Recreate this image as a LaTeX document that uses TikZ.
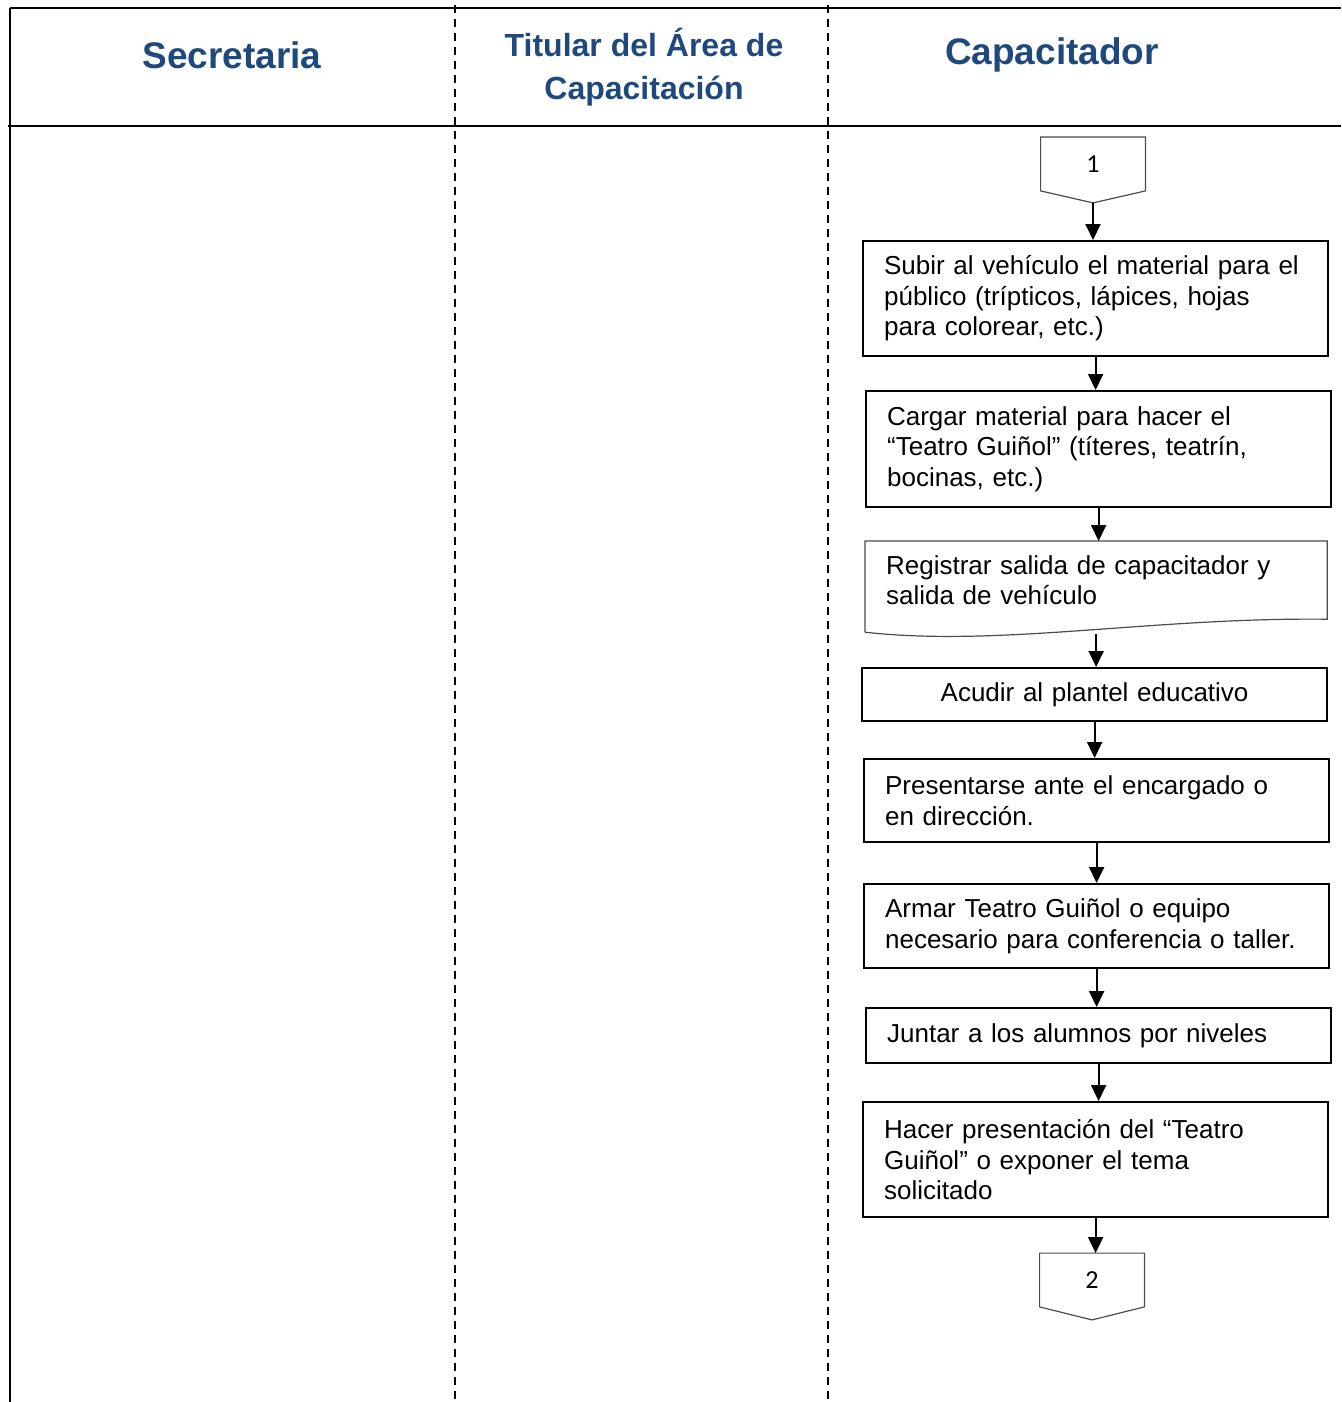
\documentclass[tikz,border=0pt]{standalone}
\usepackage{fontspec}
\setmainfont{Liberation Sans}
\newfontfamily\carlito{Carlito}
\usepackage{tikz}
\usetikzlibrary{arrows.meta}
\usetikzlibrary{calc}
\definecolor{azultit}{RGB}{31,73,125}
\hyphenpenalty=10000
\exhyphenpenalty=10000

\begin{document}
\begin{tikzpicture}[x=0.5pt,y=0.5pt,yscale=-1,xscale=1,
    paso/.style={draw,line width=1.1pt,anchor=north west,align=left,text width=211.5pt,
      inner xsep=10.5pt,inner ysep=0pt,font=\fontsize{13}{15.25}\selectfont},
    conector/.style={minimum width=52pt,minimum height=26.5pt,inner sep=0pt,font=\carlito\fontsize{13}{15}\selectfont},
    gris/.style={draw=black!70,line width=0.6pt},
    flecha/.style={-{Triangle[length=8pt,width=7.5pt]},line width=1pt},
    carril/.style={line width=0.9pt,dash pattern=on 4pt off 3pt},
    titulo/.style={text=azultit,font=\bfseries\fontsize{18.5}{22}\selectfont,align=center}]
      \useasboundingbox (0,0) rectangle (1341,1402);
      % (TikZ code unchanged)
      \draw [line width=1pt] (10,8) -- (1341,8) ;
      \draw [line width=1.2pt] (8,126) -- (1341,126) ;
      \draw [line width=0.8pt] (10,8) -- (10,1402) ;
      \draw [carril] (455,5) -- (455,1402) ;
      \draw [carril] (828,5) -- (828,1402) ;
      \node (sec) at (232,55)  [titulo] {Secretaria};
      \node (tit) at (644,67)  [titulo,font=\bfseries\fontsize{16}{21.5}\selectfont] {Titular del Área de\\Capacitación};
      \node (cap) at (1052,55) [titulo] {Capacitador};

      \node (c1) at (1093,164) [conector] {1};
      \draw [gris] (c1.north west) -- (c1.north east) -- (c1.south east) -- ($(c1.south)+(0,12)$) -- (c1.south west) -- cycle ;
      \coordinate (c1tip) at ($(c1.south)+(0,12)$);

      \node (subir) at (862,240) [paso,minimum height=57.5pt]
        {Subir al vehículo el material para el\\público (trípticos, lápices, hojas\\para colorear, etc.)};
      \node (cargar) at (865,390) [paso,minimum height=58pt]
        {Cargar material para hacer el\\“Teatro Guiñol” (títeres, teatrín,\\bocinas, etc.)};
      \node (registrar) at (865,541) [paso,draw=none,text width=210pt,inner xsep=10pt,minimum height=38pt]
        {Registrar salida de capacitador y\\salida de vehículo};
      \draw [gris] ($(registrar.south west)+(0,13)$) -- (registrar.north west) -- (registrar.north east) -- (registrar.south east)
        .. controls ($(registrar.south east)+(-175,-2)$) and ($(registrar.south west)+(135,28)$) .. ($(registrar.south west)+(0,13)$) ;
      \coordinate (regfin) at ($(registrar.south)+(0,15)$);
      \node (acudir) at (861,667) [paso,align=center,minimum height=26.5pt]
        {Acudir al plantel educativo};
      \node (presentar) at (863,758) [paso,minimum height=41.5pt]
        {Presentarse ante el encargado o\\en dirección.};
      \node (armar) at (863,883) [paso,minimum height=42pt]
        {Armar Teatro Guiñol o equipo\\necesario para conferencia o taller.};
      \node (juntar) at (865,1007) [paso,minimum height=27.5pt]
        {Juntar a los alumnos por niveles};
      \node (hacer) at (862,1101) [paso,minimum height=57.5pt]
        {Hacer presentación del “Teatro\\Guiñol” o exponer el tema\\solicitado};

      \node (c2) at (1092,1280) [conector] {2};
      \draw [gris] (c2.north west) -- (c2.north east) -- (c2.south east) -- ($(c2.south)+(0,13)$) -- (c2.south west) -- cycle ;

      \draw [flecha] (c1tip) -- (c1tip |- subir.north) ;
      \draw [flecha] (subir.south) -- (subir.south |- cargar.north) ;
      \draw [flecha] (cargar.south) -- (cargar.south |- registrar.north) ;
      \draw [flecha] (regfin) -- (regfin |- acudir.north) ;
      \draw [flecha] (acudir.south) -- (acudir.south |- presentar.north) ;
      \draw [flecha] (presentar.south) -- (presentar.south |- armar.north) ;
      \draw [flecha] (armar.south) -- (armar.south |- juntar.north) ;
      \draw [flecha] (juntar.south) -- (juntar.south |- hacer.north) ;
      \draw [flecha] (hacer.south) -- (hacer.south |- c2.north) ;
    \end{tikzpicture}
\end{document}
